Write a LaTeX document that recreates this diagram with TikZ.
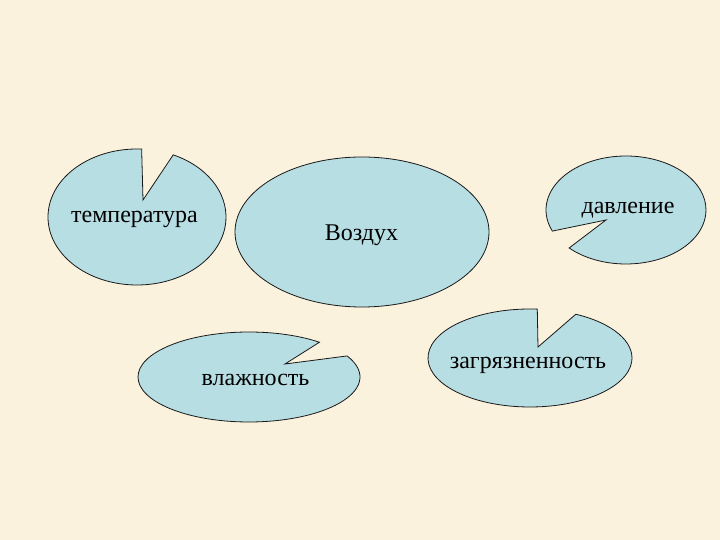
\documentclass[tikz,border=0pt]{standalone}
\usepackage{fontspec}
\setmainfont{Liberation Serif}
\definecolor{bgbeige}{RGB}{251,242,221}
\definecolor{blobfill}{RGB}{183,222,227}
\definecolor{blobline}{RGB}{25,25,25}
\tikzset{
  blob/.style={fill=blobfill, draw=blobline, line width=0.8pt, line join=miter},
  lbl/.style={anchor=base, inner sep=0pt, font=\fontsize{24}{28}\selectfont, text=black}
}
\begin{document}
\begin{tikzpicture}[x=1pt,y=1pt]
\useasboundingbox (0,0) rectangle (720,540);
\fill[bgbeige] (0,0) rectangle (720,540);
% температура
\filldraw[blob] (143,340) -- ([shift={(87:89pt and 68pt)}]137,323)
  arc[start angle=87, end angle=426, x radius=89pt, y radius=68pt] -- cycle;
% давление
\filldraw[blob] (606,320) -- ([shift={(224.7:80pt and 54pt)}]626,330)
  arc[start angle=224.7, end angle=563, x radius=80pt, y radius=54pt] -- cycle;
% влажность
\filldraw[blob] (285,176) -- ([shift={(50.6:111pt and 45pt)}]249,163)
  arc[start angle=50.6, end angle=387.9, x radius=111pt, y radius=45pt] -- cycle;
% загрязненность
\filldraw[blob] (538,193) -- ([shift={(85.9:102pt and 49pt)}]530,182)
  arc[start angle=85.9, end angle=423.3, x radius=102pt, y radius=49pt] -- cycle;
% Воздух
\filldraw[blob] (362,308) ellipse[x radius=127pt, y radius=75pt];
\node[lbl] (temp) at (134.5,317) {температура};
\node[lbl] (vozd) at (361.5,299) {Воздух};
\node[lbl] (davl) at (628,326) {давление};
\node[lbl] (vlazh) at (255.5,154) {влажность};
\node[lbl] (zagr) at (528,171) {загрязненность};
\end{tikzpicture}
\end{document}
